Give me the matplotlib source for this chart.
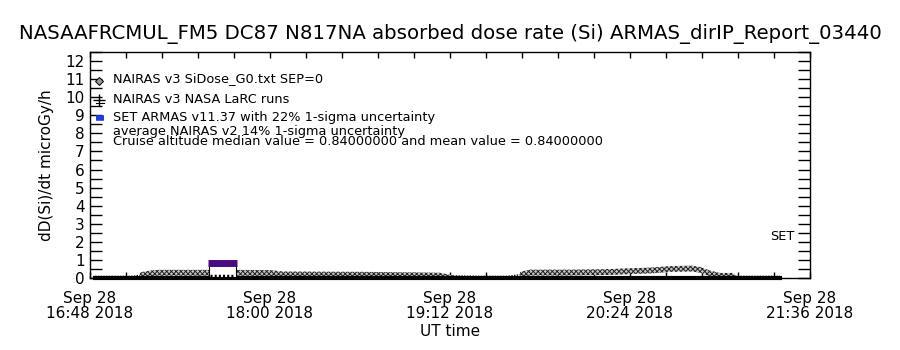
import numpy as np
import matplotlib
matplotlib.use("Agg")
import matplotlib.pyplot as plt
import matplotlib.dates as mdates
from matplotlib.patches import Rectangle
from datetime import datetime

DAY = "2018-09-28 "

# NAIRAS v3 SiDose_G0 model along the flight track
nairas_times = ["16:50", "17:05", "17:08", "17:12", "17:15", "17:30", "17:45", "18:00",
                "18:05", "18:20", "18:37", "18:50", "19:08", "19:20", "19:24", "19:35",
                "19:40", "19:44", "20:00", "20:15", "20:25", "20:33", "20:40", "20:49",
                "20:52", "20:56", "21:00", "21:05", "21:08", "21:24"]
nairas_dose = [0.09, 0.09, 0.15, 0.25, 0.29, 0.29, 0.29, 0.28,
               0.20, 0.19, 0.18, 0.16, 0.13, 0.10, 0.09, 0.09,
               0.18, 0.30, 0.30, 0.33, 0.38, 0.42, 0.50, 0.52,
               0.45, 0.25, 0.12, 0.12, 0.09, 0.09]

# NAIRAS v3 NASA LaRC runs
larc_times = ["16:50", "17:30", "18:00", "18:30", "19:00", "19:30", "20:00", "20:30", "21:00", "21:24"]
larc_dose = [0.0, 0.0, 0.0, 0.0, 0.0, 0.0, 0.0, 0.0, 0.0, 0.0]

# SET ARMAS v11.37 measurement (cruise segment)
armas_start = ["17:35"]
armas_end = ["17:47"]
armas_dose = [0.84]
armas_low = [0.08]

median_value = 0.84
mean_value = 0.84

x_start, x_end = "16:48", "21:36"


def to_dt(hhmm):
    return datetime.strptime(DAY + hhmm, "%Y-%m-%d %H:%M")


t_nairas = mdates.date2num([to_dt(t) for t in nairas_times])
t_larc = mdates.date2num([to_dt(t) for t in larc_times])
d_nairas = np.array(nairas_dose)

plt.rcParams['font.family'] = ['DejaVu Sans']
plt.rcParams['hatch.linewidth'] = 0.7

fig = plt.figure(figsize=(9, 3.5), dpi=100)
ax = fig.add_axes([0.1, 0.2057, 0.8, 0.6457])

# model band with checker-like hatching, thin dotted where the dose is tiny
ax.plot(t_nairas, d_nairas, color="black", lw=1.0, ls=(0, (1, 1)), zorder=2)
ax.fill_between(t_nairas, d_nairas - 0.16, d_nairas + 0.16, where=d_nairas > 0.11,
                interpolate=True, facecolor="#c4c4c4", edgecolor="#222222",
                hatch="xxxxxxx", linewidth=0, zorder=3)

# LaRC runs sit on the zero line
ax.plot(t_larc, larc_dose, color="black", lw=3, clip_on=False, zorder=4)

# ARMAS bar with its box underneath
for s, e, v, lo in zip(armas_start, armas_end, armas_dose, armas_low):
    t0 = mdates.date2num(to_dt(s))
    t1 = mdates.date2num(to_dt(e))
    ax.add_patch(Rectangle((t0 + 0.0005, lo), (t1 - t0) - 0.001, v - lo,
                           facecolor="white", edgecolor="black", lw=0.8, zorder=5))
    ax.plot([t0 + 0.0008, t1 - 0.0008], [lo + 0.05, lo + 0.05], color="black",
            lw=2.5, ls=(0, (0.6, 0.6)), zorder=6)
    ax.plot([t0, t1], [v, v], color="#4b0c7e", lw=5, solid_capstyle="butt", zorder=7)

ax.set_xlim(mdates.date2num(to_dt(x_start)), mdates.date2num(to_dt(x_end)))
ax.set_ylim(0, 12.5)

x0 = mdates.date2num(to_dt(x_start))
ax.set_xticks(x0 + np.arange(0, 5) * 72 / 1440)
ax.set_xticks(x0 + np.arange(0, 21) * 14.4 / 1440, minor=True)
ax.xaxis.set_major_formatter(mdates.DateFormatter("%b %d\n%H:%M %Y"))
ax.set_yticks(np.arange(0, 13))
ax.set_yticks(np.arange(0, 12.6, 0.5), minor=True)

ax.tick_params(axis="x", which="both", direction="in", top=True, bottom=True,
               length=4, width=1, labelsize=11, pad=9)
ax.tick_params(axis="y", which="both", direction="in", left=True, right=True,
               length=8.5, width=1, labelsize=11, pad=4)
for lbl in ax.get_xticklabels():
    lbl.set_linespacing(1.05)
for sp in ax.spines.values():
    sp.set_linewidth(1)

ax.set_xlabel("UT time", fontsize=11, labelpad=2)
ax.set_ylabel("dD(Si)/dt microGy/h", fontsize=11, labelpad=8)
fig.suptitle("NASAAFRCMUL_FM5 DC87 N817NA absorbed dose rate (Si) ARMAS_dirIP_Report_03440",
             fontsize=14.2, y=0.93)

# legend block drawn in the IDL style
tr = ax.transAxes
ax.plot([0.0125], [0.873], marker="D", ms=4, mfc="#999999", mec="black", mew=0.7,
        transform=tr, clip_on=False)
ax.plot([0.0125], [0.787], marker="+", ms=8, color="black", mew=1, transform=tr)
ax.plot([0.008, 0.019], [0.773, 0.773], color="black", lw=0.8, transform=tr)
ax.plot([0.008, 0.020], [0.709, 0.709], color="#1f3fe0", lw=4, solid_capstyle="butt",
        transform=tr)
leg_kw = dict(transform=tr, fontsize=9.3, ha="left", va="center")
ax.text(0.032, 0.881, "NAIRAS v3 SiDose_G0.txt SEP=0", **leg_kw)
ax.text(0.032, 0.788, "NAIRAS v3 NASA LaRC runs", **leg_kw)
ax.text(0.032, 0.712, "SET ARMAS v11.37 with 22% 1-sigma uncertainty", **leg_kw)
ax.text(0.032, 0.650, "average NAIRAS v2 14% 1-sigma uncertainty", **leg_kw)
ax.text(0.032, 0.604, "Cruise altitude median value = %.8f and mean value = %.8f"
        % (median_value, mean_value), **leg_kw)

ax.text(0.979, 2.3, "SET", transform=ax.get_yaxis_transform(), fontsize=9.3,
        ha="right", va="center")

fig.savefig("out.png", dpi=100)
